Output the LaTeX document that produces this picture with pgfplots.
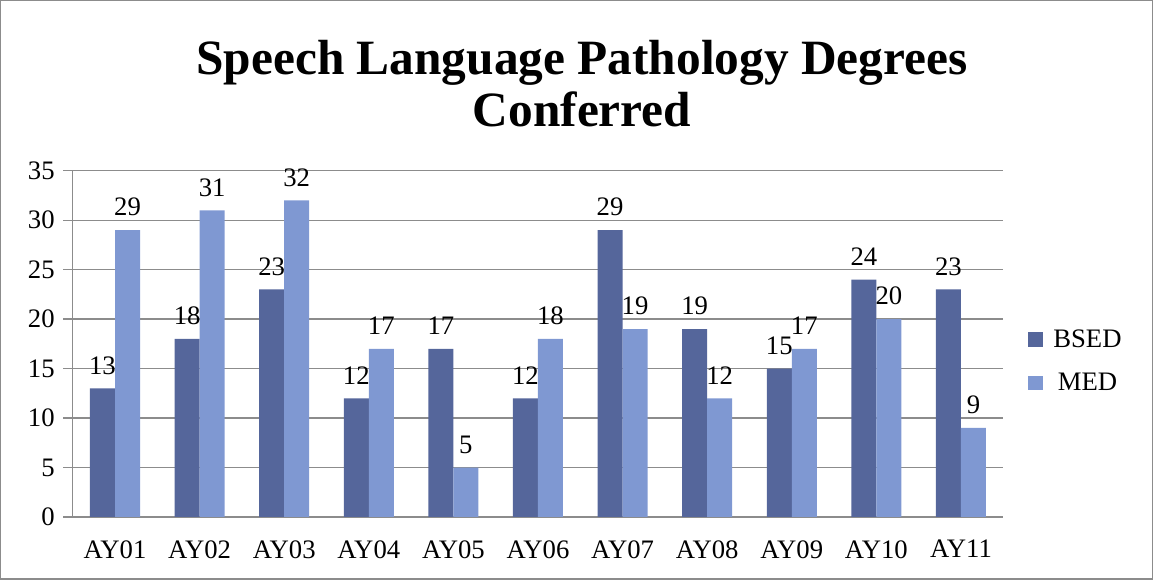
\documentclass[border=0pt]{standalone}
\usepackage{fontspec}
\setmainfont{Liberation Serif}
\usepackage{pgfplots}
\pgfplotsset{compat=1.18}
\definecolor{bsed}{RGB}{85,102,155}
\definecolor{med}{RGB}{127,152,210}
\definecolor{gridgray}{RGB}{140,140,140}

\begin{document}
\begin{tikzpicture}
    % outer chart frame (1153 x 580 px, 1px = 0.75pt)
    \draw[gridgray, line width=1pt] (0.75pt,0.75pt) rectangle (864pt,434.25pt);
    \node[font=\fontsize{37}{39}\selectfont\bfseries, align=center] at (436.5pt,372pt)
        {Speech Language Pathology Degrees\\Conferred};

    \begin{axis}[
        at={(54.75pt,47.25pt)}, anchor=south west,
        scale only axis,
        width=697.5pt, height=259.5pt,
        ybar=0pt, bar width=18.75pt,
        xmin=-0.5, xmax=10.5,
        ymin=0, ymax=35,
        xtick={0,...,10},
        xticklabels={AY01,AY02,AY03,AY04,AY05,AY06,AY07,AY08,AY09,AY10,AY11},
        major x tick style={draw=none},
        extra x ticks={-0.5,0.5,...,10.5},
        extra x tick labels={},
        extra x tick style={tick style={draw=gridgray, line width=1pt}, major tick length=6pt, tick align=outside, grid=none},
        ytick={0,5,...,35},
        ymajorgrids,
        grid style={gridgray, line width=1pt},
        axis x line*=bottom, axis y line*=left,
        axis line style={gridgray, line width=1pt, -},
        y tick style={gridgray, line width=1pt},
        tick align=outside, major tick length=7pt,
        xticklabel style={yshift=-7pt},
        yticklabel style={xshift=-3pt},
        tick label style={font=\fontsize{20}{24}\selectfont},
        /pgf/number format/assume math mode=true,
        nodes near coords,
        every node near coord/.append style={font=\fontsize{20}{24}\selectfont, black, yshift=7pt},
        legend style={at={(1.022,0.45)}, anchor=west, draw=none, fill=none,
            font=\fontsize{20}{24}\selectfont, row sep=14pt, column sep=6pt},
        legend image code/.code={\fill[#1] (0pt,-5.5pt) rectangle (11pt,5.5pt);},
    ]
    \addplot[fill=bsed, draw=none] coordinates {
        (0,13) (1,18) (2,23) (3,12) (4,17) (5,12) (6,29) (7,19) (8,15) (9,24) (10,23)
    };
    \addlegendentry{BSED}
    \addplot[fill=med, draw=none] coordinates {
        (0,29) (1,31) (2,32) (3,17) (4,5) (5,18) (6,19) (7,12) (8,17) (9,20) (10,9)
    };
    \addlegendentry{MED}
    \end{axis}
\end{tikzpicture}
\end{document}
